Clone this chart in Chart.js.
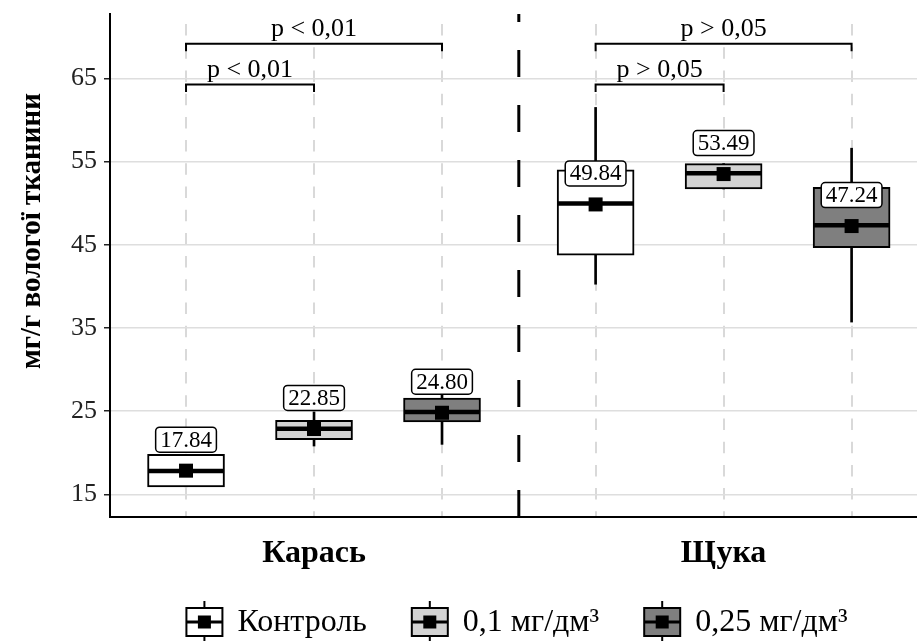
<!DOCTYPE html>
<html>
<head>
<meta charset="utf-8">
<script src="https://cdn.jsdelivr.net/npm/chart.js@4.4.1/dist/chart.umd.min.js"></script>
<style>
html, body { margin: 0; padding: 0; background: #ffffff; }
#wrap { width: 917px; height: 641px; }
</style>
</head>
<body>
<div id="wrap"><canvas id="c" width="917" height="641"></canvas></div>
<script>
// ---------- data ----------
const groups = ['Карась', 'Щука'];
const treatments = ['Контроль', '0,1 мг/дм³', '0,25 мг/дм³'];
// [treatment][group]
const meanValues   = [[17.84, 49.84], [22.85, 53.49], [24.80, 47.24]];
const medianValues = [[17.80, 49.95], [22.87, 53.60], [24.88, 47.35]];
const q1Values     = [[15.90, 43.75], [21.55, 51.70], [23.70, 44.65]];
const q3Values     = [[19.80, 54.00], [23.90, 54.75], [26.55, 51.90]];
const minValues    = [[15.90, 40.25], [20.80, 51.70], [21.00, 35.70]];
const maxValues    = [[19.80, 61.50], [24.90, 54.75], [27.20, 56.60]];
const yTicks = [15, 25, 35, 45, 55, 65];
// [group][comparison]: comparison 0 = Контроль vs 0,1 ; 1 = Контроль vs 0,25
const pLabels = [['p < 0,01', 'p < 0,01'], ['p > 0,05', 'p > 0,05']];
const yTitle = 'мг/г вологої тканини';

// ---------- layout / style ----------
const FONT = "'Liberation Serif', 'Times New Roman', serif";
const Y_MIN = 12.27, Y_MAX = 72.73;
const X_MIN = 0.406, X_MAX = 6.711;
const groupCenters = [2, 5.2];
const dodge = 1;
const separatorX = 3.6;
const bracketLevels = [64.25, 69.15];
const bracketDrop = 0.9;
const boxColors = ['#ffffff', '#d3d3d3', '#7f7f7f'];

function xPos(g, t) { return groupCenters[g] + (t - 1) * dodge; }
const tickPositions = [];
groups.forEach((_, g) => treatments.forEach((_, t) => tickPositions.push(xPos(g, t))));

const datasets = [];
treatments.forEach((name, t) => {
  datasets.push({
    type: 'bar', label: name + ' whisker',
    data: groups.map((_, g) => ({ x: xPos(g, t), y: [minValues[t][g], maxValues[t][g]] })),
    backgroundColor: '#000000', borderWidth: 0, barThickness: 2, grouped: false, order: 40
  });
  datasets.push({
    type: 'bar', label: name,
    data: groups.map((_, g) => ({ x: xPos(g, t), y: [q1Values[t][g], q3Values[t][g]] })),
    backgroundColor: boxColors[t], borderColor: '#000000', borderWidth: 2, borderSkipped: false,
    barThickness: 77, grouped: false, order: 30
  });
  datasets.push({
    type: 'scatter', label: name + ' median',
    data: groups.map((_, g) => ({ x: xPos(g, t), y: medianValues[t][g] })),
    pointStyle: 'line', pointRadius: 38, borderColor: '#000000', pointBorderColor: '#000000',
    pointBorderWidth: 4.5, order: 20
  });
  datasets.push({
    type: 'scatter', label: name + ' mean',
    data: groups.map((_, g) => ({ x: xPos(g, t), y: meanValues[t][g] })),
    pointStyle: 'rect', pointRadius: 9.9, pointBackgroundColor: '#000000', backgroundColor: '#000000',
    pointBorderWidth: 0, borderWidth: 0, order: 10
  });
});
// group separator
datasets.push({
  type: 'line', label: 'separator',
  data: [{ x: separatorX, y: Y_MIN }, { x: separatorX, y: Y_MAX }],
  borderColor: '#000000', borderWidth: 3, borderDash: [27, 28], pointRadius: 0, tension: 0, order: 35
});
// significance brackets
groups.forEach((_, g) => {
  [0, 1].forEach(k => {
    const x1 = xPos(g, 0), x2 = xPos(g, k + 1), lv = bracketLevels[k];
    datasets.push({
      type: 'line', label: 'bracket',
      data: [{ x: x1, y: lv - bracketDrop }, { x: x1, y: lv }, { x: x2, y: lv }, { x: x2, y: lv - bracketDrop }],
      borderColor: '#000000', borderWidth: 2, pointRadius: 0, tension: 0, fill: false, order: 5
    });
  });
});

// ---------- plugins ----------
function roundRectPath(ctx, x, y, w, h, r) {
  ctx.beginPath();
  ctx.moveTo(x + r, y);
  ctx.lineTo(x + w - r, y);
  ctx.arcTo(x + w, y, x + w, y + r, r);
  ctx.lineTo(x + w, y + h - r);
  ctx.arcTo(x + w, y + h, x + w - r, y + h, r);
  ctx.lineTo(x + r, y + h);
  ctx.arcTo(x, y + h, x, y + h - r, r);
  ctx.lineTo(x, y + r);
  ctx.arcTo(x, y, x + r, y, r);
  ctx.closePath();
}

const annotations = {
  id: 'annotations',
  afterDatasetsDraw(chart) {
    const ctx = chart.ctx, xs = chart.scales.x, ys = chart.scales.y;
    ctx.save();
    // mean value labels
    ctx.font = `23px ${FONT}`;
    ctx.textAlign = 'center';
    ctx.textBaseline = 'middle';
    treatments.forEach((_, t) => groups.forEach((_, g) => {
      const v = meanValues[t][g];
      const txt = v.toFixed(2);
      const cx = xs.getPixelForValue(xPos(g, t));
      const cy = ys.getPixelForValue(v) - 31;
      const w = ctx.measureText(txt).width + 9, h = 25;
      roundRectPath(ctx, cx - w / 2, cy - h / 2, w, h, 4);
      ctx.fillStyle = '#ffffff'; ctx.fill();
      ctx.lineWidth = 1.5; ctx.strokeStyle = '#000000'; ctx.stroke();
      ctx.fillStyle = '#000000';
      ctx.fillText(txt, cx, cy + 1);
    }));
    // p labels
    ctx.font = `26px ${FONT}`;
    ctx.textBaseline = 'alphabetic';
    groups.forEach((_, g) => [0, 1].forEach(k => {
      const x1 = xs.getPixelForValue(xPos(g, 0)), x2 = xs.getPixelForValue(xPos(g, k + 1));
      const y = ys.getPixelForValue(bracketLevels[k]) - 8;
      ctx.fillText(pLabels[g][k], (x1 + x2) / 2, y);
    }));
    ctx.restore();
  },
  afterDraw(chart) {
    const ctx = chart.ctx;
    ctx.save();
    // y axis title
    ctx.translate(40, 231);
    ctx.rotate(-Math.PI / 2);
    ctx.font = `bold 29px ${FONT}`;
    ctx.textAlign = 'center';
    ctx.textBaseline = 'alphabetic';
    ctx.fillStyle = '#000000';
    ctx.fillText(yTitle, 0, 0);
    ctx.restore();

    // legend
    ctx.save();
    ctx.font = `32px ${FONT}`;
    const keyW = 36, keyH = 28, gapKT = 15, itemGap = 45, stub = 7;
    const widths = treatments.map(n => ctx.measureText(n).width);
    const total = widths.reduce((a, w) => a + keyW + gapKT + w, 0) + itemGap * (treatments.length - 1);
    let x = 517 - total / 2;
    const cy = 622;
    treatments.forEach((n, t) => {
      const kx = x + keyW / 2;
      ctx.strokeStyle = '#000000';
      ctx.lineWidth = 2;
      ctx.beginPath();
      ctx.moveTo(kx, cy - keyH / 2 - stub); ctx.lineTo(kx, cy + keyH / 2 + stub); ctx.stroke();
      ctx.fillStyle = boxColors[t];
      ctx.fillRect(x, cy - keyH / 2, keyW, keyH);
      ctx.strokeRect(x, cy - keyH / 2, keyW, keyH);
      ctx.lineWidth = 3;
      ctx.beginPath(); ctx.moveTo(x, cy); ctx.lineTo(x + keyW, cy); ctx.stroke();
      ctx.fillStyle = '#000000';
      ctx.fillRect(kx - 6.5, cy - 6.5, 13, 13);
      ctx.textAlign = 'left';
      ctx.textBaseline = 'middle';
      ctx.fillText(n, x + keyW + gapKT, cy + 1);
      x += keyW + gapKT + widths[t] + itemGap;
    });
    ctx.restore();
  }
};

new Chart(document.getElementById('c'), {
  type: 'bar',
  data: { datasets },
  options: {
    responsive: false,
    animation: false,
    devicePixelRatio: 1,
    events: [],
    layout: { autoPadding: false, padding: { top: 14, left: 0, right: 0, bottom: 0 } },
    plugins: { legend: { display: false }, tooltip: { enabled: false } },
    scales: {
      x: {
        type: 'linear', min: X_MIN, max: X_MAX, offset: false,
        afterBuildTicks: s => { s.ticks = tickPositions.map(v => ({ value: v })); },
        afterFit: s => { s.height = 124; s.paddingLeft = 0; s.paddingRight = 0; },
        ticks: {
          autoSkip: false, maxRotation: 0, minRotation: 0, padding: 18,
          font: { family: FONT, size: 32, weight: 'bold' }, color: '#000000',
          callback: (v, i) => (i % treatments.length === 1 ? groups[Math.floor(i / treatments.length)] : '')
        },
        grid: { color: '#d9d9d9', lineWidth: 2, drawTicks: false, offset: false },
        border: { display: true, color: '#000000', width: 2, dash: [11.5, 11.7], dashOffset: 13.1 }
      },
      y: {
        type: 'linear', min: Y_MIN, max: Y_MAX,
        afterBuildTicks: s => { s.ticks = yTicks.map(v => ({ value: v })); },
        afterFit: s => { s.width = 110; s.paddingTop = 0; s.paddingBottom = 0; },
        ticks: { padding: 7, font: { family: FONT, size: 26 }, color: '#222222' },
        grid: { color: '#dedede', lineWidth: 1.5, tickLength: 6, tickColor: '#222222', tickWidth: 1.5 },
        border: { display: true, color: '#000000', width: 2 }
      }
    }
  },
  plugins: [annotations]
});
</script>
</body>
</html>
